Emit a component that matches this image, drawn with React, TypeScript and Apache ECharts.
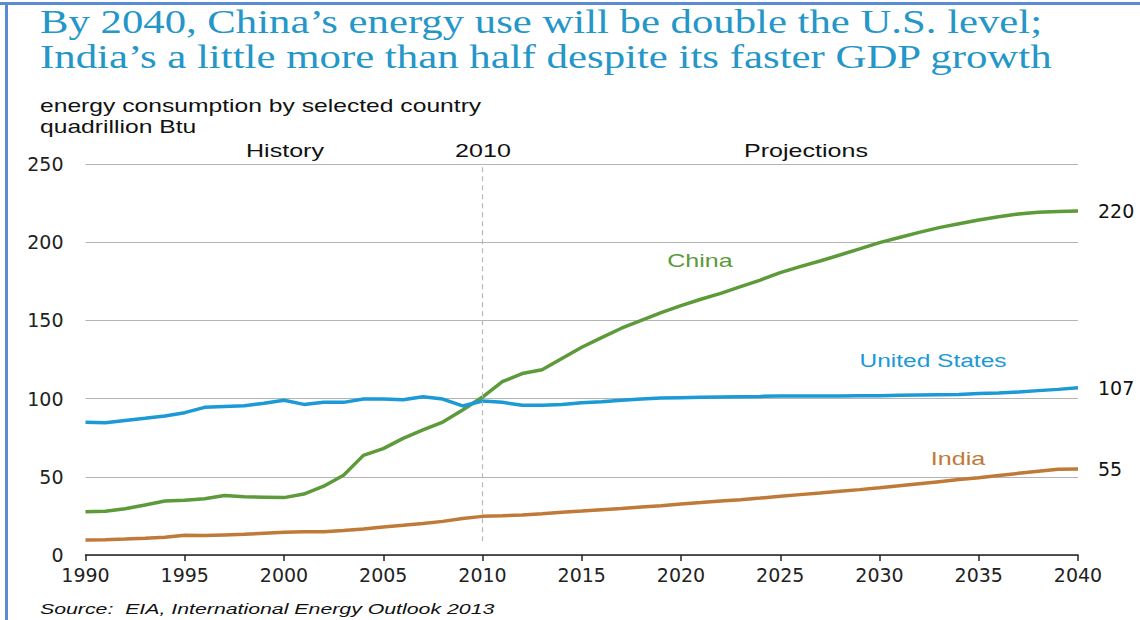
import React, { useEffect, useRef } from "react";
import * as echarts from "echarts";

const years: number[] = [];
for (let y = 1990; y <= 2040; y++) years.push(y);

const china = [27.7, 28, 29.6, 32, 34.5, 35, 36, 38, 37.3, 37, 36.7, 39, 44, 51, 63.7, 68, 74.6, 80, 85, 92.7,
  101, 110.8, 116, 118.5, 125.7, 132.8, 139, 145, 150, 155, 159.4, 163.5, 167.3, 171.6, 175.8, 180.5, 184.4, 188,
  191.8, 195.7, 199.7, 203, 206.3, 209.3, 211.8, 214.2, 216.3, 218, 219.1, 219.7, 220];
const unitedStates = [84.8, 84.6, 86, 87.4, 88.9, 91, 94.4, 95, 95.5, 97, 99, 96.3, 97.6, 97.6, 99.7, 99.7, 99.3,
  101.2, 99.7, 95.3, 98.5, 97.6, 95.7, 95.7, 96.3, 97.4, 98, 99, 99.7, 100.4, 100.6, 100.8, 101, 101.2, 101.4,
  101.7, 101.7, 101.7, 101.7, 101.9, 101.9, 102.1, 102.3, 102.5, 102.7, 103.2, 103.6, 104.2, 105.1, 105.9, 107];
const india = [9.6, 9.8, 10.2, 10.7, 11.3, 12.6, 12.4, 12.8, 13.2, 13.9, 14.5, 14.9, 14.9, 15.6, 16.6, 17.9, 19,
  20.2, 21.5, 23.4, 24.7, 25.1, 25.6, 26.4, 27.3, 28.1, 29, 29.8, 30.7, 31.5, 32.6, 33.5, 34.5, 35.4, 36.4, 37.5,
  38.6, 39.6, 40.7, 41.8, 43, 44.3, 45.6, 46.9, 48.2, 49.4, 50.9, 52.2, 53.5, 54.8, 55];

const endLabels = ["220", "107", "55"];
const seriesNames = ["China", "United States", "India"];

const GREEN = "#5c9a3a";
const BLUE = "#1b9ad6";
const BROWN = "#c07a37";
const SANS = "'Liberation Sans', Arial, sans-serif";
const WIDE = "'DejaVu Sans', 'Liberation Sans', sans-serif";

export default function App() {
  const ref = useRef<HTMLDivElement>(null);
  useEffect(() => {
    const chart = echarts.init(ref.current!, null, { renderer: "svg" });
    const pairs = (arr: number[]) => arr.map((v, i) => [years[i], v]);
    const endLabel = (text: string) => ({
      show: true,
      formatter: text,
      color: "#111",
      fontSize: 19,
      fontFamily: WIDE,
      distance: 20,
    });
    const label = (x: number, y: number, text: string, fill: string, sx = 1.32) => ({
      type: "text",
      x,
      y,
      scaleX: sx,
      style: { text, fill, font: `19px ${SANS}`, align: "center", verticalAlign: "middle" },
    });
    chart.setOption({
      animation: false,
      backgroundColor: "#fff",
      grid: { left: 85.5, right: 62, top: 164, bottom: 65, containLabel: false },
      xAxis: {
        type: "value",
        min: 1990,
        max: 2040,
        interval: 5,
        axisLine: { lineStyle: { color: "#222", width: 1.5 } },
        axisTick: { show: true, inside: false, length: 6, lineStyle: { color: "#222", width: 1.5 } },
        axisLabel: { color: "#222", fontSize: 19, fontFamily: WIDE, margin: 10, formatter: (v: number) => String(v) },
        splitLine: { show: false },
      },
      yAxis: {
        type: "value",
        min: 0,
        max: 250,
        interval: 50,
        axisLine: { show: false },
        axisTick: { show: false },
        axisLabel: { color: "#222", fontSize: 19, fontFamily: WIDE, margin: 22 },
        splitLine: { lineStyle: { color: "#b4b4b4", width: 1.2 } },
      },
      series: [
        {
          name: seriesNames[0],
          type: "line",
          data: pairs(china),
          showSymbol: false,
          lineStyle: { color: GREEN, width: 3.5 },
          itemStyle: { color: GREEN },
          endLabel: endLabel(endLabels[0]),
          z: 3,
          markLine: {
            silent: true,
            symbol: "none",
            label: { show: false },
            lineStyle: { color: "#b8b8b8", type: [5, 4], width: 1.2 },
            data: [[{ coord: [2010, 248] }, { coord: [2010, 9] }]],
          },
        },
        {
          name: seriesNames[1],
          type: "line",
          data: pairs(unitedStates),
          showSymbol: false,
          lineStyle: { color: BLUE, width: 3.5 },
          itemStyle: { color: BLUE },
          endLabel: endLabel(endLabels[1]),
          z: 4,
        },
        {
          name: seriesNames[2],
          type: "line",
          data: pairs(india),
          showSymbol: false,
          lineStyle: { color: BROWN, width: 3.5 },
          itemStyle: { color: BROWN },
          endLabel: endLabel(endLabels[2]),
          z: 2,
        },
      ],
      graphic: [
        { type: "rect", shape: { x: 0, y: 2, width: 1140, height: 3 }, style: { fill: "#5b8bd0" } },
        { type: "rect", shape: { x: 5, y: 2, width: 3, height: 618 }, style: { fill: "#5b8bd0" } },
        {
          type: "text", x: 40, y: 5, scaleX: 1.257,
          style: { text: "By 2040, China\u2019s energy use will be double the U.S. level;", fill: "#2596c8", font: "34px 'Liberation Serif', 'Times New Roman', serif", verticalAlign: "top" },
        },
        {
          type: "text", x: 40, y: 40, scaleX: 1.26,
          style: { text: "India\u2019s a little more than half despite its faster GDP growth", fill: "#2596c8", font: "34px 'Liberation Serif', 'Times New Roman', serif", verticalAlign: "top" },
        },
        {
          type: "text", x: 40, y: 97, scaleX: 1.37,
          style: { text: "energy consumption by selected country", fill: "#111", font: `18px ${SANS}`, verticalAlign: "top" },
        },
        {
          type: "text", x: 40, y: 118, scaleX: 1.37,
          style: { text: "quadrillion Btu", fill: "#111", font: `18px ${SANS}`, verticalAlign: "top" },
        },
        label(285, 151, "History", "#111"),
        label(483, 151, "2010", "#111"),
        label(806, 151, "Projections", "#111"),
        label(700, 261, "China", GREEN),
        label(933, 361, "United States", BLUE, 1.29),
        label(958, 459, "India", BROWN),
        {
          type: "text", x: 40, y: 601, scaleX: 1.42,
          style: { text: "Source:  EIA, International Energy Outlook 2013", fill: "#111", font: `italic 15px ${SANS}`, verticalAlign: "top" },
        },
      ],
    });
    return () => chart.dispose();
  }, []);
  return <div ref={ref} style={{ position: "absolute", left: 0, top: 0, width: 1140, height: 620 }} />;
}
